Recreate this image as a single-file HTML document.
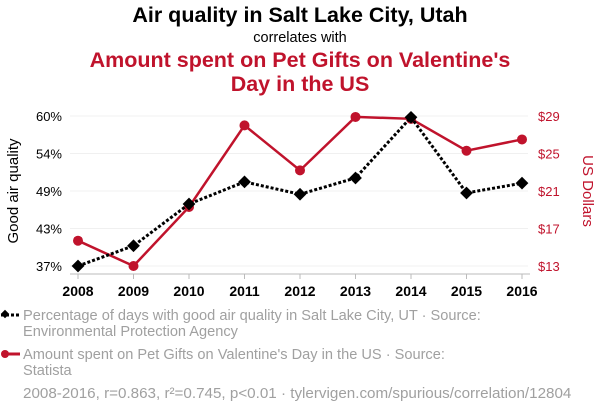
<!DOCTYPE html>
<html><head><meta charset="utf-8"><style>
body{margin:0;background:#fff;font-family:"Liberation Sans",Arial,sans-serif;}
svg{display:block}
</style></head><body>
<svg id="c" width="600" height="414" viewBox="0 0 600 414">
<text x="300" y="22" text-anchor="middle" font-size="21.5" font-weight="bold" fill="#000">Air quality in Salt Lake City, Utah</text>
<text x="300" y="42" text-anchor="middle" font-size="14.5" fill="#000">correlates with</text>
<text x="300" y="67" text-anchor="middle" font-size="21.5" font-weight="bold" fill="#c0132c">Amount spent on Pet Gifts on Valentine's</text>
<text x="300" y="91" text-anchor="middle" font-size="21.5" font-weight="bold" fill="#c0132c">Day in the US</text>
<g id="grid"></g>
<g id="axes"></g>
<g id="series"></g>
<text transform="translate(18,191) rotate(-90)" text-anchor="middle" font-size="15" fill="#000">Good air quality</text>
<text transform="translate(583,191) rotate(90)" text-anchor="middle" font-size="15" fill="#c0132c">US Dollars</text>
<g>
<line x1="1" y1="315" x2="20" y2="315" stroke="#000" stroke-width="3" stroke-dasharray="3,2"/>
<rect x="2" y="311" width="6" height="6" transform="rotate(45 5 314)" fill="#000"/>
<text x="23" y="320" font-size="14.6" fill="#a0a0a0">Percentage of days with good air quality in Salt Lake City, UT · Source:</text>
<text x="23" y="336" font-size="14.6" fill="#a0a0a0">Environmental Protection Agency</text>
</g>
<g>
<line x1="3" y1="354" x2="20" y2="354" stroke="#c0132c" stroke-width="3"/>
<circle cx="5" cy="354" r="4" fill="#c0132c"/>
<text x="23" y="359" font-size="14.6" fill="#a0a0a0">Amount spent on Pet Gifts on Valentine's Day in the US · Source:</text>
<text x="23" y="375" font-size="14.6" fill="#a0a0a0">Statista</text>
</g>
<text x="23" y="398" font-size="15.2" fill="#a0a0a0">2008-2016, r=0.863, r²=0.745, p&lt;0.01 · tylervigen.com/spurious/correlation/12804</text>
</svg>
<script>
const years=[2008,2009,2010,2011,2012,2013,2014,2015,2016];
const airPct=[37.0,40.1,46.5,49.9,48.0,50.5,59.8,48.2,49.7];
const petGifts=[15.7,13.0,19.3,28.0,23.2,28.9,28.7,25.3,26.5];
const leftTicks=["60%","54%","49%","43%","37%"];
const rightTicks=["$29","$25","$21","$17","$13"];
const NS="http://www.w3.org/2000/svg";
function mk(t,a,p){const e=document.createElementNS(NS,t);for(const k in a)e.setAttribute(k,a[k]);p.appendChild(e);return e;}
const x=i=>78+(522-78)*i/(years.length-1);
const yL=v=>266-(v-37)/(60-37)*150;
const yR=v=>266-(v-13)/(29-13)*150;
const grid=document.getElementById('grid'),axes=document.getElementById('axes'),ser=document.getElementById('series');
leftTicks.forEach((t,i)=>{
  const y=116+i*37.5;
  const g=mk('line',{x1:70,x2:528,y1:y,y2:y,stroke:'#f0f0f0','stroke-width':1},grid);
  
  
  const l=mk('text',{x:62,y:y+5,'text-anchor':'end','font-size':13,fill:'#000'},axes);l.textContent=t;
  
  
  const r=mk('text',{x:538,y:y+5,'font-size':13,fill:'#c0132c'},axes);r.textContent=rightTicks[i];
  
  
});
const ax=mk('line',{x1:70,x2:530,y1:274,y2:274,stroke:'#bbb','stroke-width':1},axes);


years.forEach((yr,i)=>{
  mk('line',{x1:x(i),x2:x(i),y1:274,y2:279,stroke:'#bbb'},axes);
  const t=mk('text',{x:x(i),y:296,'text-anchor':'middle','font-size':14,'font-weight':'bold',fill:'#000'},axes);t.textContent=yr;
  
  
});
const rp=mk('polyline',{points:petGifts.map((v,i)=>x(i)+','+yR(v)).join(' '),fill:'none',stroke:'#c0132c','stroke-width':2.5},ser);


petGifts.forEach((v,i)=>{const c=mk('circle',{cx:x(i),cy:yR(v),r:5,fill:'#c0132c'},ser);
  
  });
const bp=mk('polyline',{points:airPct.map((v,i)=>x(i)+','+yL(v)).join(' '),fill:'none',stroke:'#000','stroke-width':3,'stroke-dasharray':'3,2'},ser);


airPct.forEach((v,i)=>{const r=mk('rect',{x:x(i)-4.5,y:yL(v)-4.5,width:9,height:9,fill:'#000',transform:`rotate(45 ${x(i)} ${yL(v)})`},ser);
  
  });
</script>
</body></html>
